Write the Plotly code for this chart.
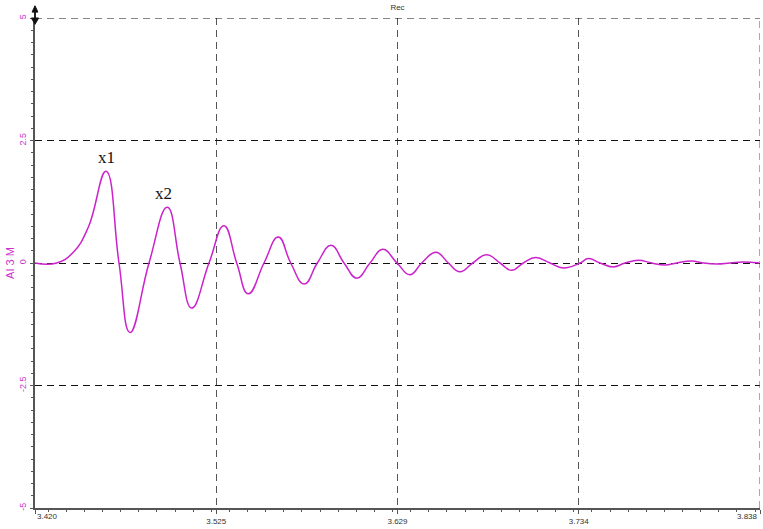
import plotly.graph_objects as go

time_s = [3.42000, 3.43251, 3.44208, 3.45073, 3.46094, 3.46843, 3.47477,
          3.48573, 3.49628, 3.50360, 3.51035, 3.52032,
          3.52897, 3.53629, 3.54298, 3.55203,
          3.56028, 3.56743, 3.57527, 3.58277, 3.59067, 3.59816, 3.60548, 3.61315, 3.62048,
          3.62872, 3.63621, 3.64296, 3.65120, 3.65830, 3.66504, 3.67236, 3.68044, 3.68810,
          3.69485, 3.70154, 3.70869, 3.71693, 3.72460, 3.73423, 3.73902, 3.74576, 3.75343,
          3.76017, 3.76784, 3.77557, 3.78324, 3.78998, 3.79863, 3.80515, 3.81305, 3.82071,
          3.82821, 3.83743]
signal = [0, 0, 0.22, 0.73, 1.87, 0, -1.42,
          0, 1.14, 0, -0.92, 0,
          0.76, 0, -0.63, 0,
          0.53, 0, -0.43, 0, 0.36, 0, -0.31, 0, 0.28,
          0, -0.24, 0, 0.22, 0, -0.18, 0, 0.17, 0,
          -0.15, 0, 0.11, 0, -0.10, 0, 0.09, 0, -0.08,
          0, 0.055, 0, -0.04, 0, 0.04, 0, -0.02, 0,
          0.02, 0]

x_ticks = [3.420, 3.5245, 3.629, 3.7335, 3.838]
x_tick_text = ["3.420", "3.525", "3.629", "3.734", "3.838"]
y_ticks = [-5, -2.5, 0, 2.5, 5]
y_tick_text = ["-5", "-2.5", "0", "2.5", "5"]
peak_labels = ["x1", "x2"]
peak_x = [3.4610, 3.4938]
peak_y = [2.16, 1.41]

MAG = "#CC33CC"
AX = "#555555"
X_MIN, X_MAX = x_ticks[0], x_ticks[-1]
Y_MIN, Y_MAX = y_ticks[0], y_ticks[-1]

fig = go.Figure()
fig.add_trace(go.Scatter(x=time_s, y=signal, mode="lines",
                         line=dict(color="#CC22CC", width=1.5, shape="spline", smoothing=1.3),
                         showlegend=False, hoverinfo="skip"))

for t, xx, yy in zip(peak_labels, peak_x, peak_y):
    fig.add_annotation(x=xx, y=yy, text=t, showarrow=False,
                       font=dict(family="Liberation Serif", size=17, color="#111111"))

# interior tick labels via axis, end labels aligned to edges
inner_text = ["", x_tick_text[1], x_tick_text[2], x_tick_text[3], ""]
fig.add_annotation(x=X_MIN, y=0, yref="paper", text=x_tick_text[0], showarrow=False,
                   xanchor="left", yanchor="top", yshift=-2,
                   font=dict(family="Liberation Sans", size=8, color="#333333"))
fig.add_annotation(x=X_MAX, y=0, yref="paper", text=x_tick_text[-1], showarrow=False,
                   xanchor="right", yanchor="top", yshift=-2,
                   font=dict(family="Liberation Sans", size=8, color="#333333"))

# frame grid lines at the range edges (top and right)
fig.add_shape(type="line", xref="x", yref="y", x0=X_MIN, x1=X_MAX, y0=Y_MAX, y1=Y_MAX,
              line=dict(color="#111111", width=1, dash="7px,5px"))
fig.add_shape(type="line", xref="x", yref="y", x0=X_MAX, x1=X_MAX, y0=Y_MIN, y1=Y_MAX,
              line=dict(color="#555555", width=1, dash="7px,5px"))

# y-axis arrow at top
fig.add_shape(type="line", xref="paper", yref="paper", x0=0, x1=0, y0=1, y1=1.02,
              line=dict(color="#222222", width=2))
fig.add_shape(type="path", xref="paper", yref="paper",
              path="M -0.005 1.0 L 0.005 1.0 L 0 0.987 Z", fillcolor="#111111",
              line=dict(color="#111111", width=1))
fig.add_shape(type="path", xref="paper", yref="paper",
              path="M -0.004 1.012 L 0.004 1.012 L 0 1.025 Z", fillcolor="#111111",
              line=dict(color="#111111", width=1))

fig.update_layout(
    width=763, height=529,
    margin=dict(l=35, r=3, t=18, b=19),
    paper_bgcolor="white", plot_bgcolor="white",
    font=dict(family="Liberation Sans", size=8, color="#333333"),
    title=dict(text="Rec", x=0.5, xref="paper", y=0.992, yanchor="top",
               font=dict(size=8, color="#333333")),
    xaxis=dict(range=[X_MIN, X_MAX], tickvals=x_ticks, ticktext=inner_text,
               showgrid=True, gridcolor="#555555", griddash="7px,5px", gridwidth=1,
               showline=True, linecolor=AX, linewidth=2, zeroline=False,
               ticks="outside", ticklen=4, tickcolor=AX,
               minor=dict(ticks="outside", ticklen=2, tickcolor=AX, dtick=0.01045, showgrid=False),
               tickfont=dict(size=8, color="#333333")),
    yaxis=dict(range=[Y_MIN, Y_MAX], tickvals=y_ticks, ticktext=y_tick_text, tickangle=-90,
               showgrid=True, gridcolor="#111111", griddash="7px,5px", gridwidth=1,
               showline=True, linecolor=AX, linewidth=2, zeroline=False,
               ticks="outside", ticklen=3, tickcolor=AX,
               minor=dict(ticks="outside", ticklen=2, tickcolor=AX, dtick=0.25, showgrid=False),
               tickfont=dict(size=9, color=MAG),
               title=dict(text="AI 3 M", font=dict(size=11, color=MAG), standoff=2)),
)

fig.write_html("out.html")
